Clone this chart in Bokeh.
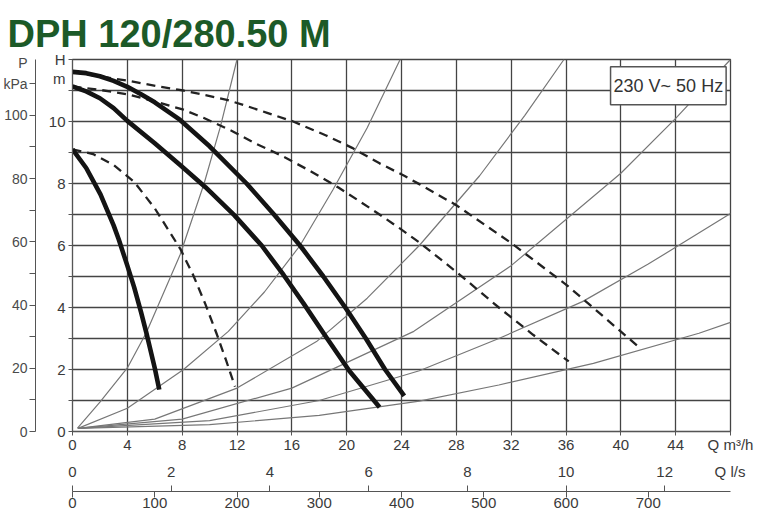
from bokeh.plotting import figure
from bokeh.models import Range1d, LinearAxis, FixedTicker, Label
from bokeh.embed import file_html
from bokeh.resources import INLINE

# ---------------- data ----------------
TITLE = "DPH 120/280.50 M"
SUPPLY = "230 V~ 50 Hz"

# thick solid pump curves  (Q in m3/h, H in m)
q_max_speed = [0, 1, 2, 3, 4, 5, 6, 7.85, 10, 12.7, 14.7, 16.6, 18.3, 19.9, 21.4, 22.8, 24.2]
h_max_speed = [11.6, 11.56, 11.46, 11.31, 11.12, 10.88, 10.62, 10.05, 9.2, 8.0, 7.0, 6.0, 5.0, 4.0, 3.0, 2.0, 1.15]

q_mid_speed = [0, 1, 2, 3, 4, 6, 7.85, 9.7, 11.8, 13.8, 15.4, 16.9, 18.5, 20.2, 22.4]
h_mid_speed = [11.13, 10.97, 10.75, 10.43, 10.02, 9.3, 8.6, 7.88, 6.98, 6.0, 5.05, 4.1, 3.05, 1.95, 0.78]

q_min_speed = [0, 1, 2.04, 3, 3.37, 4, 4.5, 5, 5.38, 6, 6.33]
h_min_speed = [9.1, 8.5, 7.65, 6.65, 6.2, 5.35, 4.65, 3.85, 3.2, 2.05, 1.35]

# dashed curves
q_dash_max = [0, 2.5, 4, 6.4, 8.1, 11.25, 12.7, 14.2, 16.1, 18.5, 20.4, 22.4, 24.2, 25.3, 28, 32, 36, 37.7, 41.4]
h_dash_max = [11.6, 11.42, 11.32, 11.12, 11.0, 10.7, 10.5, 10.28, 10.0, 9.55, 9.15, 8.65, 8.25, 7.98, 7.3, 6.08, 4.74, 4.1, 2.69]

q_dash_mid = [0, 2, 3.98, 5.9, 8.1, 9.55, 11.7, 13.3, 15.25, 17.4, 19.4, 20.9, 22.4, 23.85, 25.3, 28, 31.1, 33.6, 36.2]
h_dash_mid = [11.13, 11.02, 10.88, 10.66, 10.38, 10.12, 9.68, 9.3, 8.9, 8.39, 7.87, 7.44, 7.0, 6.56, 6.1, 5.15, 4.0, 3.12, 2.26]

q_dash_min = [0, 1.5, 3, 4.5, 6, 7.85, 8.8, 9.7, 10.5, 11.2, 11.85]
h_dash_min = [9.1, 8.95, 8.6, 8.05, 7.2, 5.9, 5.05, 4.1, 3.17, 2.3, 1.45]

# thin system curves
q_sys1 = [0.35, 2, 4, 5.4, 7.85, 9.6, 10.8, 12]
h_sys1 = [0.1, 0.95, 2.05, 3.2, 5.7, 8.0, 9.85, 12]
q_sys2 = [0.4, 4, 8.1, 11.37, 14, 16.6, 19.0, 21.5, 23.9]
h_sys2 = [0.1, 0.75, 2.0, 3.23, 4.5, 6.0, 7.8, 9.8, 12]
q_sys3 = [0.4, 6, 12, 17.8, 21.5, 25.3, 29.7, 33, 35.85]
h_sys3 = [0.1, 0.4, 1.4, 2.9, 4.3, 6.0, 8.25, 10.2, 12]
q_sys4 = [0.4, 8, 16, 24.9, 32, 40, 44, 48]
h_sys4 = [0.1, 0.4, 1.4, 3.23, 5.35, 8.33, 10.1, 12]
q_sys5 = [0.4, 10, 18, 25.3, 31.1, 37.2, 42, 48]
h_sys5 = [0.1, 0.35, 1.0, 1.96, 3.0, 4.19, 5.4, 7.03]
q_sys6 = [0.4, 10, 18, 25.3, 31.1, 38, 45.7, 48]
h_sys6 = [0.1, 0.22, 0.52, 0.98, 1.5, 2.2, 3.17, 3.52]

# axes
q_ticks = [0, 4, 8, 12, 16, 20, 24, 28, 32, 36, 40, 44, 48]
q_labels = {48: "Q m\u00b3/h"}
h_ticks = [0, 1, 2, 3, 4, 5, 6, 7, 8, 9, 10, 11, 12]
h_label_ticks = [0, 2, 4, 6, 8, 10, 11.39, 12]
h_labels = {11.39: "m", 12: "H"}
p_ticks = [0, 10, 20, 30, 40, 50, 60, 70, 80, 90, 100, 110]
p_label_ticks = [0, 20, 40, 60, 80, 100, 110, 116.7]
p_labels = {110: "kPa", 116.7: "P"}
ls_ticks = [0, 2, 4, 6, 8, 10, 12]
ls_end_label = "Q l/s"
lmin_ticks = [0, 100, 200, 300, 400, 500, 600, 700]
lmin_end_label = "Q l/min"

Q_MAX = 48
H_MAX = 12
KPA_PER_M = 9.80665
M3H_PER_LS = 3.6
LMIN_PER_LS = 60.0

FONT = "Liberation Sans"
TXT = "#3a3a3a"
AX = "#555555"

p = figure(frame_width=658, frame_height=372,
           x_range=Range1d(0, Q_MAX), y_range=Range1d(0, H_MAX),
           output_backend="svg", toolbar_location=None,
           min_border_top=59, min_border_left=0, min_border_right=25,
           min_border_bottom=0)
p.outline_line_color = "#444444"
p.outline_line_width = 1.3
p.background_fill_color = "white"

LS_MAX = Q_MAX / M3H_PER_LS
LMIN_MAX = LS_MAX * LMIN_PER_LS
p.extra_y_ranges = {"kpa": Range1d(0, H_MAX * KPA_PER_M)}
p.extra_x_ranges = {"ls": Range1d(0, LS_MAX), "lmin": Range1d(0, LMIN_MAX)}

# title
p.title.text = TITLE
p.title.align = "left"
p.title.vertical_align = "top"
p.title.offset = -65
p.title.standoff = 5
p.title.text_font = "Liberation Sans"
p.title.text_font_style = "bold"
p.title.text_font_size = "38px"
p.title.text_color = "#1c5a28"


def style_axis(ax, size="15px"):
    ax.major_label_text_font = FONT
    ax.major_label_text_font_size = size
    ax.major_label_text_color = TXT
    ax.axis_line_color = AX
    ax.major_tick_line_color = AX
    ax.minor_tick_line_color = None
    ax.major_tick_in = 0


# Q m3/h axis
xa = p.xaxis[0]
xa.ticker = FixedTicker(ticks=q_ticks)
xa.major_label_overrides = q_labels
style_axis(xa)
xa.major_tick_out = 4
xa.major_label_standoff = 0

# H axis: labels on major ticks, tick marks on minor ticks
ya = p.yaxis[0]
ya.ticker = FixedTicker(ticks=h_label_ticks, minor_ticks=h_ticks)
ya.major_label_overrides = h_labels
style_axis(ya)
ya.major_tick_line_color = None
ya.major_tick_out = 4
ya.minor_tick_line_color = AX
ya.minor_tick_out = 4
ya.minor_tick_in = 0
ya.major_label_standoff = 3
ya.axis_label = " "
ya.axis_label_text_font_size = "7px"
ya.axis_label_standoff = 0

# grid
p.xgrid.grid_line_color = "#444444"
p.xgrid.grid_line_width = 1.3
p.ygrid.ticker = FixedTicker(ticks=h_ticks)
p.ygrid.grid_line_color = "#444444"
p.ygrid.grid_line_width = 1.3

# P kPa axis
pa = LinearAxis(y_range_name="kpa", ticker=FixedTicker(ticks=p_label_ticks, minor_ticks=p_ticks))
pa.major_label_overrides = p_labels
style_axis(pa, "14px")
pa.major_tick_line_color = None
pa.major_tick_out = 6
pa.minor_tick_line_color = AX
pa.minor_tick_out = 6
pa.minor_tick_in = 0
pa.major_label_standoff = 2
pa.major_label_text_color = "#4a4a4a"
p.add_layout(pa, "left")

# Q l/s axis (labels only)
ax_ls = LinearAxis(x_range_name="ls", ticker=FixedTicker(ticks=ls_ticks + [LS_MAX - 0.01]))
ax_ls.major_label_overrides = {LS_MAX - 0.01: ls_end_label}
style_axis(ax_ls)
ax_ls.axis_line_color = None
ax_ls.major_tick_line_color = None
ax_ls.major_tick_out = 0
ax_ls.major_label_standoff = 7
ax_ls.axis_label = " "
ax_ls.axis_label_text_font_size = "3px"
ax_ls.axis_label_standoff = 3
p.add_layout(ax_ls, "below")

# Q l/min axis, with l/s ticks pointing up
ax_lm = LinearAxis(x_range_name="lmin",
                   ticker=FixedTicker(ticks=lmin_ticks + [800],
                                      minor_ticks=[v * LMIN_PER_LS for v in ls_ticks]))
ax_lm.major_label_overrides = {800: lmin_end_label}
style_axis(ax_lm)
ax_lm.major_tick_out = 6
ax_lm.minor_tick_line_color = AX
ax_lm.minor_tick_in = 6
ax_lm.minor_tick_out = 0
ax_lm.major_label_standoff = 0
p.add_layout(ax_lm, "below")

# curves
for qs, hs in [(q_sys1, h_sys1), (q_sys2, h_sys2), (q_sys3, h_sys3),
               (q_sys4, h_sys4), (q_sys5, h_sys5), (q_sys6, h_sys6)]:
    p.line(qs, hs, line_color="#777777", line_width=1.2, line_join="round")

for qs, hs in [(q_dash_max, h_dash_max), (q_dash_mid, h_dash_mid), (q_dash_min, h_dash_min)]:
    p.line(qs, hs, line_color="#222222", line_width=2.3, line_dash="9 6", line_join="round")

for qs, hs in [(q_max_speed, h_max_speed), (q_mid_speed, h_mid_speed), (q_min_speed, h_min_speed)]:
    p.line(qs, hs, line_color="#141414", line_width=4.6, line_join="round")

# supply box
p.add_layout(Label(x=39.25, y=11.15, text=SUPPLY, text_font=FONT, text_font_size="18px",
                   text_color="#333333", text_baseline="middle", text_align="left",
                   background_fill_color="white", border_line_color="#555555",
                   border_line_width=1.5, padding=(3, 9)))

open("out.html", "w").write(file_html(p, INLINE))
